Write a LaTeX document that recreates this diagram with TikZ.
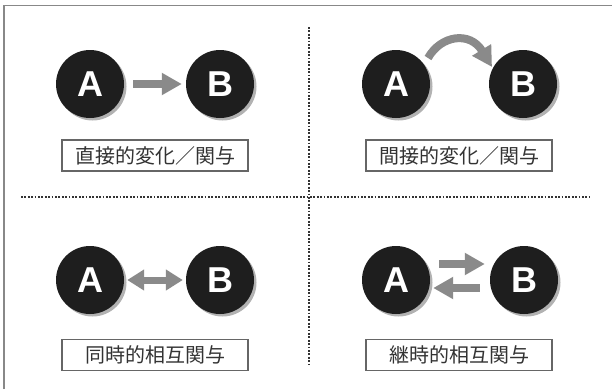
\documentclass[tikz,border=0pt]{standalone}
\usepackage{fontspec}
\setmainfont{Liberation Sans}
\newfontfamily\jpfont{Noto Sans CJK JP}
\usetikzlibrary{arrows.meta,shadows}
\definecolor{circfill}{HTML}{1E1E1E}
\definecolor{arrgray}{HTML}{8A8A8A}
\definecolor{boxgray}{HTML}{666666}
\definecolor{txtgray}{HTML}{333333}
\definecolor{framegray}{HTML}{888888}
\definecolor{dotgray}{HTML}{333333}
\begin{document}
\begin{tikzpicture}[x=1pt,y=-1pt,
  ball/.style={circle, fill=circfill, minimum size=68pt, inner sep=0pt, text=white,
    font=\bfseries\fontsize{36}{36}\selectfont,
    drop shadow={shadow xshift=2.5pt, shadow yshift=-2.5pt, opacity=0.3, fill=black}},
  lbl/.style={draw=boxgray, line width=1.2pt, minimum width=186pt, minimum height=31pt,
    inner sep=0pt, font=\jpfont\fontsize{20}{20}\selectfont, text=txtgray},
  arr/.style={draw=arrgray, line width=8pt, -{Triangle[length=20pt,width=21pt]}},
  dblarr/.style={draw=arrgray, line width=7pt, {Triangle[length=17pt,width=20pt]}-{Triangle[length=17pt,width=20pt]}},
  dotline/.style={draw=dotgray, line width=1.9pt, dash pattern=on 1.7pt off 1.7pt},
  framebar/.style={draw=framegray, line width=1.5pt}
]
\useasboundingbox[fill=white] (0,0) rectangle (612,389);
% frame
\draw[framebar] (4,389) -- (4,5.5) -- (612,5.5);
% dividers
\draw[dotline] (309,27) -- (309,365);
\draw[dotline] (21,197) -- (590,197);

% top-left
\node[ball] (a1) at (90,84) {A};
\node[ball] (b1) at (220,84) {B};
\draw[arr, shorten <=9pt, shorten >=4pt] (a1.east) -- (b1.west);
\node[lbl] (l1) at (155,155.5) {直接的変化／関与};

% top-right
\node[ball] (a2) at (396,84) {A};
\node[ball] (b2) at (523,84) {B};
\coordinate (c2s) at (428,58);
\coordinate (c2e) at (492,67);
\draw[arr] (c2s) .. controls (441,35) and (470,31) .. (c2e);
\node[lbl] (l2) at (459,155.5) {間接的変化／関与};

% bottom-left
\node[ball] (a3) at (90,280) {A};
\node[ball] (b3) at (220,280) {B};
\draw[dblarr, shorten <=3pt, shorten >=3pt] (a3.east) -- (b3.west);
\node[lbl] (l3) at (155,355) {同時的相互関与};

% bottom-right
\node[ball] (a4) at (396,280) {A};
\node[ball] (b4) at (524,280) {B};
\draw[arr] ([shift={(9,-16)}]a4.east) -- ([shift={(-5,-16)}]b4.west);
\draw[arr] ([shift={(-10,8)}]b4.west) -- ([shift={(3,8)}]a4.east);
\node[lbl] (l4) at (459,355) {継時的相互関与};
\end{tikzpicture}
\end{document}
